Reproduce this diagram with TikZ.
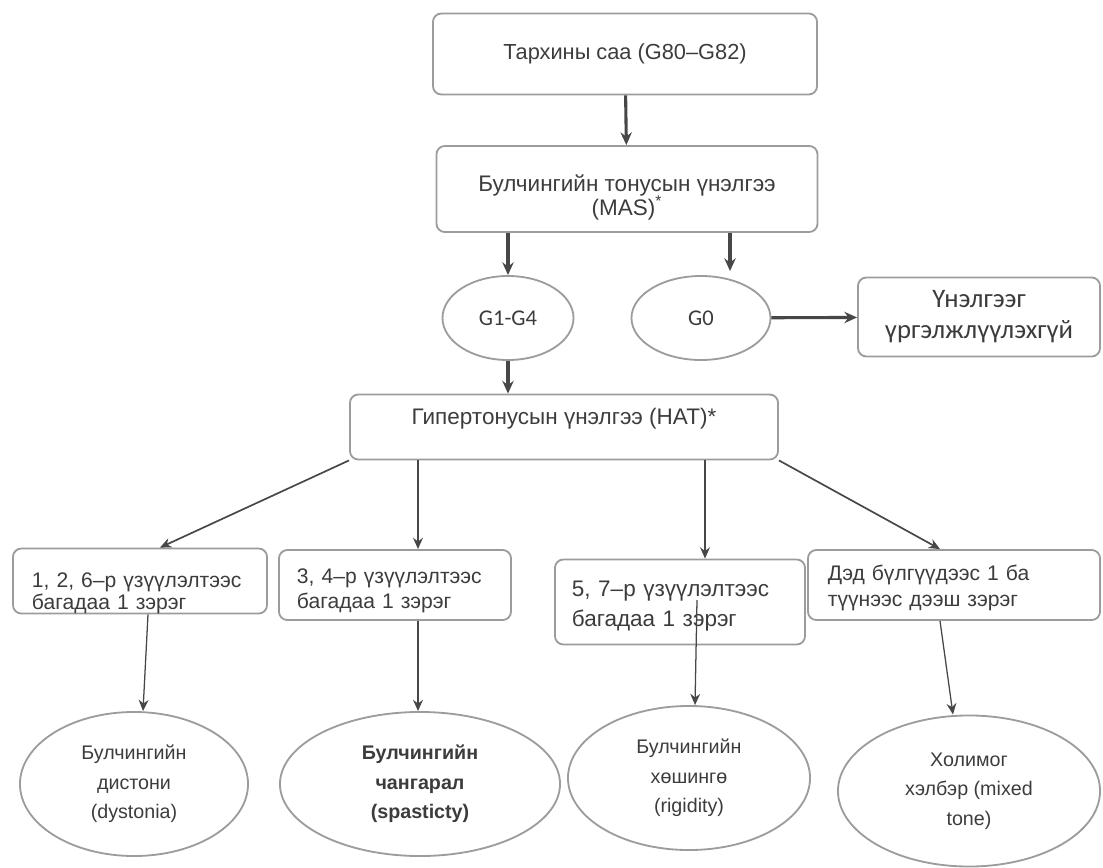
\documentclass[tikz,border=0pt]{standalone}
\usepackage{fontspec}
\setmainfont{Liberation Sans}
\newfontfamily\calfont{Carlito}
\usetikzlibrary{shapes.geometric,arrows.meta,calc}

\definecolor{boxline}{HTML}{9C9C9C}
\definecolor{arrline}{HTML}{474747}
\definecolor{txt}{HTML}{3C3C3C}

\begin{document}
\begin{tikzpicture}[x=0.025cm, y=-0.025cm,
  box/.style = {draw=boxline, line width=1.3pt, rounded corners=6pt, text=txt,
                align=center, inner sep=2pt, font=\fontsize{16}{18}\selectfont},
  lbox/.style = {box, align=left, font=\fontsize{15}{16}\selectfont},
  oval/.style = {ellipse, draw=boxline, line width=1.3pt, text=txt, align=center,
                 inner sep=0pt, font=\fontsize{14}{21}\selectfont},
  bigarr/.style = {-{Stealth[length=9pt,width=8pt]}, draw=arrline, line width=2.2pt},
  arr/.style = {-{Stealth[length=8pt,width=7pt]}, draw=arrline, line width=1.2pt},
  thinarr/.style = {-{Stealth[length=8pt,width=7pt]}, draw=arrline, line width=0.9pt}]
\useasboundingbox (0,0) rectangle (1103,867);

% upper part
\node [box, minimum width=9.6cm, minimum height=2.025cm, font=\fontsize{15.5}{18}\selectfont] (saa) at (625,54)
      {Тархины саа (G80–G82)};
\node [box, minimum width=9.525cm, minimum height=2.15cm, text height=1.655cm, text depth=0.355cm] (mas) at (627,189)
      {Булчингийн тонусын үнэлгээ\\[-1pt](MAS)\textsuperscript{*}};
\node [oval, minimum width=3.275cm, minimum height=2.1cm, font=\calfont\fontsize{16}{18}\selectfont] (g14) at (508,318) {G1-G4};
\node [oval, minimum width=3.475cm, minimum height=2.1cm, font=\calfont\fontsize{16}{18}\selectfont] (g0) at (701,318) {G0};
\node [box, minimum width=6.05cm, minimum height=1.975cm, font=\calfont\fontsize{19}{22}\selectfont] (stop) at (979,317)
      {Үнэлгээг\\үргэлжлүүлэхгүй};
\node [box, minimum width=10.7cm, minimum height=1.625cm, text height=0.6cm, text depth=0.72cm] (hat) at (564,427)
      {Гипертонусын үнэлгээ (HAT)*};

% criteria boxes
\node [lbox, minimum width=6.35cm, minimum height=1.625cm, text width=5.4cm,
       text height=0.9cm, text depth=0.585cm] (crA) at (140,581)
      {1, 2, 6–р үзүүлэлтээс\\багадаа 1 зэрэг};
\node [lbox, minimum width=5.8cm, minimum height=1.75cm, text width=4.9cm, font=\fontsize{15}{18}\selectfont,
       text height=0.755cm, text depth=0.855cm] (crB) at (395,585)
      {3, 4–р үзүүлэлтээс\\багадаа 1 зэрэг};
\node [lbox, minimum width=6.25cm, minimum height=2.125cm, text width=5.4cm, font=\fontsize{16}{20}\selectfont,
       text height=0.855cm, text depth=1.13cm] (crC) at (680,602)
      {5, 7–р үзүүлэлтээс\\[1pt]багадаа 1 зэрэг};
\node [lbox, minimum width=7.3cm, minimum height=1.75cm, text width=6.3cm, font=\fontsize{15}{19}\selectfont,
       text height=0.68cm, text depth=0.93cm] (crD) at (954,585)
      {Дэд бүлгүүдээс 1 ба\\түүнээс дээш зэрэг};

% tone types
\node [oval, minimum width=5.7cm, minimum height=3.6cm] (dys) at (134,784) {Булчингийн\\дистони\\(dystonia)};
\node [oval, minimum width=7cm, minimum height=3.6cm, font=\bfseries\fontsize{14}{21}\selectfont] (spa) at (420,784)
      {Булчингийн\\чангарал\\(spasticty)};
\node [oval, minimum width=6.05cm, minimum height=3.6cm] (rig) at (689,778) {Булчингийн\\хөшингө\\(rigidity)};
\node [oval, minimum width=6.55cm, minimum height=3.775cm] (mix) at (969,791) {Холимог\\хэлбэр (mixed\\tone)};

% arrow ends
\coordinate (toG0) at ($(g0.north)+(29,-4)$);
\coordinate (toA) at ($(crA.north)+(20,0)$);
\coordinate (toB) at ($(crB.north)+(23,0)$);
\coordinate (toC) at ($(crC.north)+(25,0)$);
\coordinate (toD) at ($(crD.north)+(-14,0)$);
\coordinate (fromA) at ($(crA.south)+(8,0)$);
\coordinate (fromB) at ($(crB.south)+(23,0)$);
\coordinate (fromC) at ($(crC.center)+(17,-2)$);
\coordinate (fromD) at ($(crD.south)+(-14,0)$);

\path
(saa) edge [bigarr] (mas)
(mas.south -| g14) edge [bigarr] (g14)
(mas.south -| toG0) edge [bigarr] (toG0)
(g0) edge [bigarr] (stop)
(g14) edge [bigarr] (g14 |- hat.north)
(hat.south west) edge [arr] (toA)
(hat.south -| toB) edge [arr] (toB)
(hat.south -| toC) edge [arr] (toC)
(hat.south east) edge [arr] (toD)
(fromA) edge [thinarr] ($(dys.north)+(9,0)$)
(fromB) edge [thinarr] (fromB |- spa.north)
(fromC) edge [thinarr] ($(rig.north)+(6,0)$)
(fromD) edge [thinarr] ($(mix.north)+(-16,0)$);
\end{tikzpicture}
\end{document}
